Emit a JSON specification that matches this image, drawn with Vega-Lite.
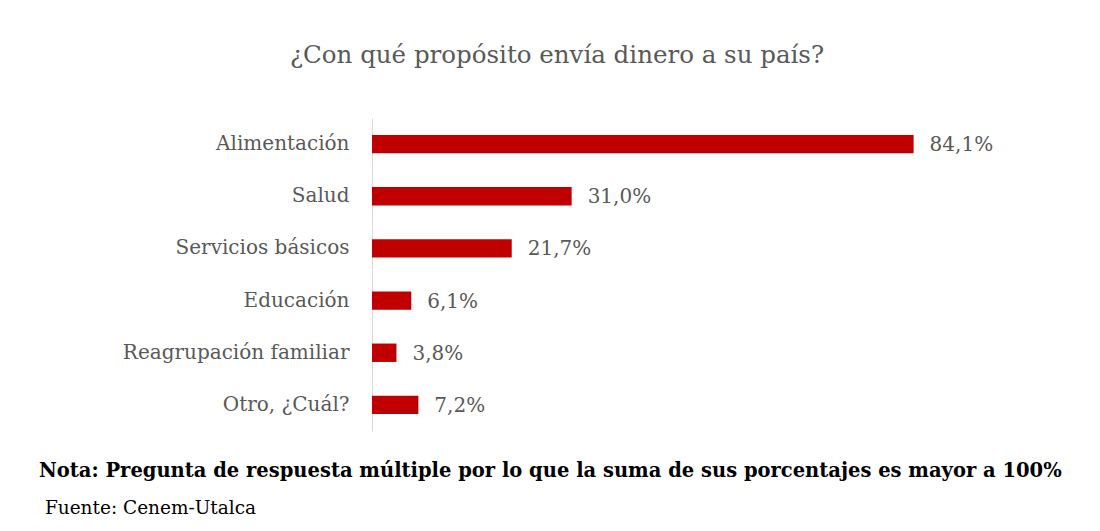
{
  "$schema": "https://vega.github.io/schema/vega-lite/v6.json",
  "autosize": {"type": "pad"},
  "padding": {"left": 39, "top": 42, "right": 100, "bottom": 20},
  "background": "white",
  "bounds": "flush",
  "title": {
    "text": "Nota: Pregunta de respuesta múltiple por lo que la suma de sus porcentajes es mayor a 100%",
    "subtitle": "\u200b\u00a0Fuente: Cenem-Utalca",
    "orient": "bottom",
    "anchor": "start",
    "frame": "group",
    "dx": -333,
    "offset": 31,
    "font": "DejaVu Serif",
    "fontSize": 19.5,
    "fontWeight": "bold",
    "color": "#000000",
    "subtitleFont": "DejaVu Serif",
    "subtitleFontSize": 18.5,
    "subtitleFontWeight": "normal",
    "subtitleColor": "#000000",
    "subtitlePadding": 17
  },
  "vconcat": [
    {
      "width": 644,
      "height": 313,
      "title": {
        "text": "¿Con qué propósito envía dinero a su país?",
        "anchor": "middle",
        "frame": "group",
        "dx": -137,
        "offset": 31,
        "baseline": "alphabetic",
        "font": "DejaVu Serif",
        "fontSize": 24.5,
        "fontWeight": "normal",
        "color": "#595959"
      },
      "data": {
        "values": [
          {"proposito": "Alimentación", "valor": 84.1, "etiqueta": "84,1%"},
          {"proposito": "Salud", "valor": 31.0, "etiqueta": "31,0%"},
          {"proposito": "Servicios básicos", "valor": 21.7, "etiqueta": "21,7%"},
          {"proposito": "Educación", "valor": 6.1, "etiqueta": "6,1%"},
          {"proposito": "Reagrupación familiar", "valor": 3.8, "etiqueta": "3,8%"},
          {"proposito": "Otro, ¿Cuál?", "valor": 7.2, "etiqueta": "7,2%"}
        ]
      },
      "encoding": {
        "y": {
          "field": "proposito",
          "type": "nominal",
          "sort": null,
          "scale": {"paddingInner": 0.647, "paddingOuter": 0.3235},
          "axis": {
            "title": null,
            "ticks": false,
            "domainColor": "#D9D9D9",
            "domainWidth": 1,
            "labelPadding": 23,
            "labelFont": "DejaVu Serif",
            "labelFontSize": 20,
            "labelColor": "#595959",
            "labelLimit": 400
          }
        },
        "x": {
          "field": "valor",
          "type": "quantitative",
          "scale": {"domain": [0, 100]},
          "axis": null
        }
      },
      "layer": [
        {"mark": {"type": "bar", "color": "#C00000"}},
        {
          "mark": {
            "type": "text",
            "align": "left",
            "baseline": "middle",
            "dx": 16,
            "dy": 1,
            "font": "DejaVu Serif",
            "fontSize": 20,
            "color": "#595959"
          },
          "encoding": {"text": {"field": "etiqueta"}}
        }
      ]
    }
  ],
  "config": {"view": {"stroke": null}}
}
